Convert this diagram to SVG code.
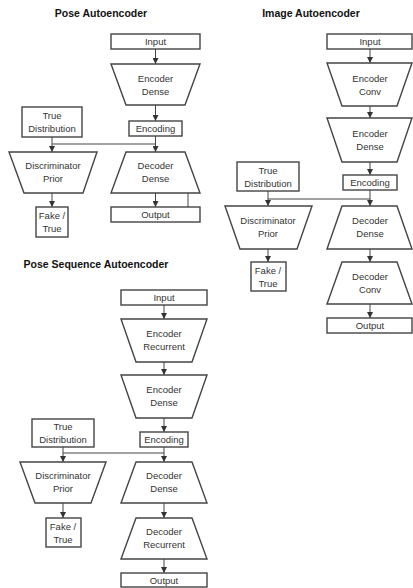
<svg xmlns="http://www.w3.org/2000/svg" width="413" height="588" viewBox="0 0 413 588">
  <style>
    .box { fill: #fff; stroke: #444; stroke-width: 1.4; }
    .wire { fill: none; stroke: #444; stroke-width: 1; }
    .lbl { font-family: "Liberation Sans", Arial, sans-serif; font-size: 9.5px; fill: #333; text-anchor: middle; }
    .title { font-family: "Liberation Sans", Arial, sans-serif; font-size: 10.5px; font-weight: bold; fill: #111; text-anchor: middle; }
  </style>
  <defs>
    <marker id="arr" viewBox="0 0 6 6" refX="6" refY="3" markerWidth="6" markerHeight="6" markerUnits="userSpaceOnUse" orient="auto">
      <path d="M0,0 L6,3 L0,6 Z" fill="#333"/>
    </marker>
  </defs>
  <rect width="413" height="588" fill="#fff"/>

  <!-- titles -->
  <text class="title" x="101" y="17">Pose Autoencoder</text>
  <text class="title" x="311" y="17">Image Autoencoder</text>
  <text class="title" x="96" y="268">Pose Sequence Autoencoder</text>

  <!-- connectors -->
  <g id="connectors">
    <!-- pose autoencoder -->
    <path class="wire" d="M155.5,49 V64" marker-end="url(#arr)"/>
    <path class="wire" d="M155.5,105 V121" marker-end="url(#arr)"/>
    <path class="wire" d="M155.5,136 V152" marker-end="url(#arr)"/>
    <path class="wire" d="M52,137 V152" marker-end="url(#arr)"/>
    <path class="wire" d="M52,144 H155.5"/>
    <path class="wire" d="M52,193 V207" marker-end="url(#arr)"/>
    <path class="wire" d="M155.5,193 V207" marker-end="url(#arr)"/>
    <path class="wire" d="M188,193 V207"/>
    <!-- image autoencoder -->
    <path class="wire" d="M370,49 V63" marker-end="url(#arr)"/>
    <path class="wire" d="M370,106 V118" marker-end="url(#arr)"/>
    <path class="wire" d="M370,162 V175" marker-end="url(#arr)"/>
    <path class="wire" d="M370,190 V206" marker-end="url(#arr)"/>
    <path class="wire" d="M268,191 V206" marker-end="url(#arr)"/>
    <path class="wire" d="M268,199 H370"/>
    <path class="wire" d="M268,249 V262" marker-end="url(#arr)"/>
    <path class="wire" d="M370,249 V262" marker-end="url(#arr)"/>
    <path class="wire" d="M370,304 V318" marker-end="url(#arr)"/>
    <!-- pose sequence autoencoder -->
    <path class="wire" d="M164,305 V319" marker-end="url(#arr)"/>
    <path class="wire" d="M164,362 V375" marker-end="url(#arr)"/>
    <path class="wire" d="M164,418 V432" marker-end="url(#arr)"/>
    <path class="wire" d="M164,447 V462" marker-end="url(#arr)"/>
    <path class="wire" d="M63,447 V462" marker-end="url(#arr)"/>
    <path class="wire" d="M63,453 H164"/>
    <path class="wire" d="M63,503 V518" marker-end="url(#arr)"/>
    <path class="wire" d="M164,503 V518" marker-end="url(#arr)"/>
    <path class="wire" d="M164,559 V573" marker-end="url(#arr)"/>
  </g>

  <!-- Pose Autoencoder -->
  <g id="pa-input">
    <rect class="box" x="111" y="34" width="89" height="15"/>
    <text class="lbl" x="155.5" y="45">Input</text>
  </g>
  <g id="pa-encoder-dense">
    <polygon class="box" points="111,64 200,64 185,105 126,105"/>
    <text class="lbl" x="155.5" y="82">Encoder</text>
    <text class="lbl" x="155.5" y="95">Dense</text>
  </g>
  <g id="pa-encoding">
    <rect class="box" x="129" y="121" width="53" height="15"/>
    <text class="lbl" x="155.5" y="132">Encoding</text>
  </g>
  <g id="pa-true-distribution">
    <rect class="box" x="22" y="107" width="60" height="30"/>
    <text class="lbl" x="52" y="119">True</text>
    <text class="lbl" x="52" y="132">Distribution</text>
  </g>
  <g id="pa-discriminator">
    <polygon class="box" points="9,152 97,152 83,193 24,193"/>
    <text class="lbl" x="53" y="169">Discriminator</text>
    <text class="lbl" x="53" y="182">Prior</text>
  </g>
  <g id="pa-decoder-dense">
    <polygon class="box" points="126,152 185,152 200,193 111,193"/>
    <text class="lbl" x="155.5" y="169">Decoder</text>
    <text class="lbl" x="155.5" y="182">Dense</text>
  </g>
  <g id="pa-fake-true">
    <rect class="box" x="36" y="207" width="32" height="30"/>
    <text class="lbl" x="52" y="219">Fake /</text>
    <text class="lbl" x="52" y="232">True</text>
  </g>
  <g id="pa-output">
    <rect class="box" x="111" y="207" width="89" height="15"/>
    <text class="lbl" x="155.5" y="218">Output</text>
  </g>

  <!-- Image Autoencoder -->
  <g id="ia-input">
    <rect class="box" x="327" y="34" width="85" height="15"/>
    <text class="lbl" x="370" y="45">Input</text>
  </g>
  <g id="ia-encoder-conv">
    <polygon class="box" points="327,63 412,63 397,106 342,106"/>
    <text class="lbl" x="370" y="82">Encoder</text>
    <text class="lbl" x="370" y="95">Conv</text>
  </g>
  <g id="ia-encoder-dense">
    <polygon class="box" points="327,118 412,118 397,162 342,162"/>
    <text class="lbl" x="370" y="137">Encoder</text>
    <text class="lbl" x="370" y="150">Dense</text>
  </g>
  <g id="ia-encoding">
    <rect class="box" x="343" y="175" width="54" height="15"/>
    <text class="lbl" x="370" y="186">Encoding</text>
  </g>
  <g id="ia-true-distribution">
    <rect class="box" x="237" y="162" width="62" height="29"/>
    <text class="lbl" x="268" y="174">True</text>
    <text class="lbl" x="268" y="187">Distribution</text>
  </g>
  <g id="ia-discriminator">
    <polygon class="box" points="225,206 312,206 297,249 240,249"/>
    <text class="lbl" x="268" y="224">Discriminator</text>
    <text class="lbl" x="268" y="237">Prior</text>
  </g>
  <g id="ia-decoder-dense">
    <polygon class="box" points="342,206 397,206 412,249 327,249"/>
    <text class="lbl" x="370" y="224">Decoder</text>
    <text class="lbl" x="370" y="237">Dense</text>
  </g>
  <g id="ia-fake-true">
    <rect class="box" x="251" y="262" width="35" height="29"/>
    <text class="lbl" x="268" y="274">Fake /</text>
    <text class="lbl" x="268" y="287">True</text>
  </g>
  <g id="ia-decoder-conv">
    <polygon class="box" points="342,262 397,262 412,304 327,304"/>
    <text class="lbl" x="370" y="280">Decoder</text>
    <text class="lbl" x="370" y="293">Conv</text>
  </g>
  <g id="ia-output">
    <rect class="box" x="327" y="318" width="85" height="15"/>
    <text class="lbl" x="370" y="329">Output</text>
  </g>

  <!-- Pose Sequence Autoencoder -->
  <g id="ps-input">
    <rect class="box" x="121" y="290" width="86" height="15"/>
    <text class="lbl" x="164" y="301">Input</text>
  </g>
  <g id="ps-encoder-recurrent">
    <polygon class="box" points="121,319 207,319 192,362 136,362"/>
    <text class="lbl" x="164" y="337">Encoder</text>
    <text class="lbl" x="164" y="350">Recurrent</text>
  </g>
  <g id="ps-encoder-dense">
    <polygon class="box" points="121,375 207,375 192,418 136,418"/>
    <text class="lbl" x="164" y="393">Encoder</text>
    <text class="lbl" x="164" y="406">Dense</text>
  </g>
  <g id="ps-encoding">
    <rect class="box" x="140" y="432" width="48" height="15"/>
    <text class="lbl" x="164" y="443">Encoding</text>
  </g>
  <g id="ps-true-distribution">
    <rect class="box" x="32" y="419" width="62" height="28"/>
    <text class="lbl" x="63" y="430">True</text>
    <text class="lbl" x="63" y="443">Distribution</text>
  </g>
  <g id="ps-discriminator">
    <polygon class="box" points="20,462 106,462 91,503 35,503"/>
    <text class="lbl" x="63" y="479">Discriminator</text>
    <text class="lbl" x="63" y="492">Prior</text>
  </g>
  <g id="ps-decoder-dense">
    <polygon class="box" points="136,462 192,462 207,503 121,503"/>
    <text class="lbl" x="164" y="479">Decoder</text>
    <text class="lbl" x="164" y="492">Dense</text>
  </g>
  <g id="ps-fake-true">
    <rect class="box" x="46" y="518" width="35" height="29"/>
    <text class="lbl" x="63" y="530">Fake /</text>
    <text class="lbl" x="63" y="543">True</text>
  </g>
  <g id="ps-decoder-recurrent">
    <polygon class="box" points="136,518 192,518 207,559 121,559"/>
    <text class="lbl" x="164" y="535">Decoder</text>
    <text class="lbl" x="164" y="548">Recurrent</text>
  </g>
  <g id="ps-output">
    <rect class="box" x="121" y="573" width="86" height="14"/>
    <text class="lbl" x="164" y="584">Output</text>
  </g>
</svg>
